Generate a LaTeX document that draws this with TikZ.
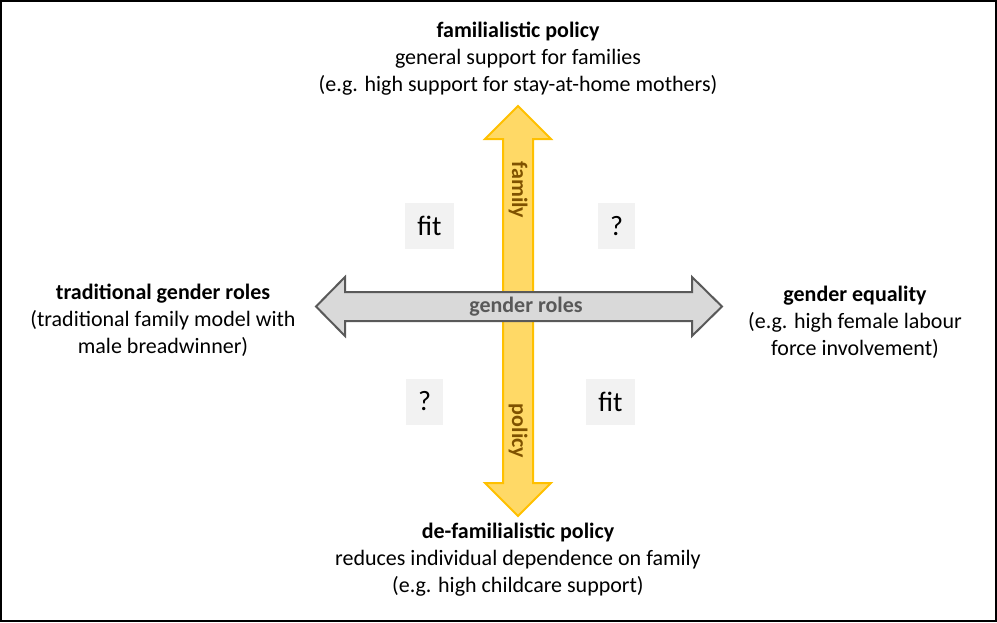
\documentclass[tikz,border=0pt]{standalone}
\usepackage{fontspec}
\setmainfont{Carlito}
\usetikzlibrary{calc}
\definecolor{policyfill}{HTML}{FFD966}
\definecolor{policyline}{HTML}{FFC000}
\definecolor{policytext}{HTML}{7F5200}
\definecolor{rolesfill}{HTML}{D9D9D9}
\definecolor{rolesline}{HTML}{595959}
\definecolor{fitgray}{HTML}{F2F2F2}

\begin{document}
\begin{tikzpicture}[x=1pt,y=-1pt,
    pole/.style={align=center,inner sep=0pt,font=\fontsize{22}{27}\selectfont},
    fitbox/.style={fill=fitgray,inner sep=0pt,minimum height=46,font=\fontsize{28}{32}\selectfont},
    axislabel/.style={inner sep=0pt,font=\bfseries\fontsize{22}{26}\selectfont}]
    \useasboundingbox (0,0) rectangle (997,622);
    % frame round the whole figure
    \draw[line width=2pt] (1,1) rectangle (996,621);

    % save centre of the cross and half widths of shafts and heads
    \pgfmathsetmacro{\cx}{518}
    \pgfmathsetmacro{\cy}{306.5}
    \pgfmathsetmacro{\vshaft}{15}
    \pgfmathsetmacro{\vhead}{33}
    \pgfmathsetmacro{\hshaft}{14.5}
    \pgfmathsetmacro{\hhead}{29.5}

    % vertical axis (policy)
    \draw[policyline,fill=policyfill,line width=2pt,line join=miter]
      (\cx-\vshaft,139) -- (\cx-\vhead,139) -- (\cx,106) -- (\cx+\vhead,139)
      -- (\cx+\vshaft,139) -- (\cx+\vshaft,483) -- (\cx+\vhead,483) -- (\cx,516)
      -- (\cx-\vhead,483) -- (\cx-\vshaft,483) -- cycle;
    % horizontal axis (gender roles)
    \draw[rolesline,fill=rolesfill,line width=2pt,line join=miter]
      (345,\cy-\hshaft) -- (345,\cy-\hhead) -- (316,\cy) -- (345,\cy+\hhead)
      -- (345,\cy+\hshaft) -- (692,\cy+\hshaft) -- (692,\cy+\hhead) -- (722,\cy)
      -- (692,\cy-\hhead) -- (692,\cy-\hshaft) -- cycle;

    \node[axislabel,text=policytext,rotate=-90] (family) at (\cx,190) {family};
    \node[axislabel,text=policytext,rotate=-90] (policy) at (\cx,431) {policy};
    \node[axislabel,text=rolesline] (roles) at (526,\cy) {gender roles};

    % the four quadrants
    \node[fitbox,minimum width=49] (fitTL) at (429.5,226) {fit};
    \node[fitbox,minimum width=37] (askTR) at (616.5,226) {?};
    \node[fitbox,minimum width=37] (askBL) at (424.5,401.5) {?};
    \node[fitbox,minimum width=49] (fitBR) at (610.5,401.5) {fit};

    % the four poles
    \node[pole] (familial) at (\cx,58.5)
      {\textbf{familialistic policy}\\general support for families\\(e.g. high support for stay-at-home mothers)};
    \node[pole] (defamilial) at (\cx,560)
      {\textbf{de-familialistic policy}\\reduces individual dependence on family\\(e.g. high childcare support)};
    \node[pole] (traditional) at (163,320)
      {\textbf{traditional gender roles}\\(traditional family model with\\male breadwinner)};
    \node[pole] (equality) at (855,322)
      {\textbf{gender equality}\\(e.g. high female labour\\force involvement)};
\end{tikzpicture}
\end{document}
